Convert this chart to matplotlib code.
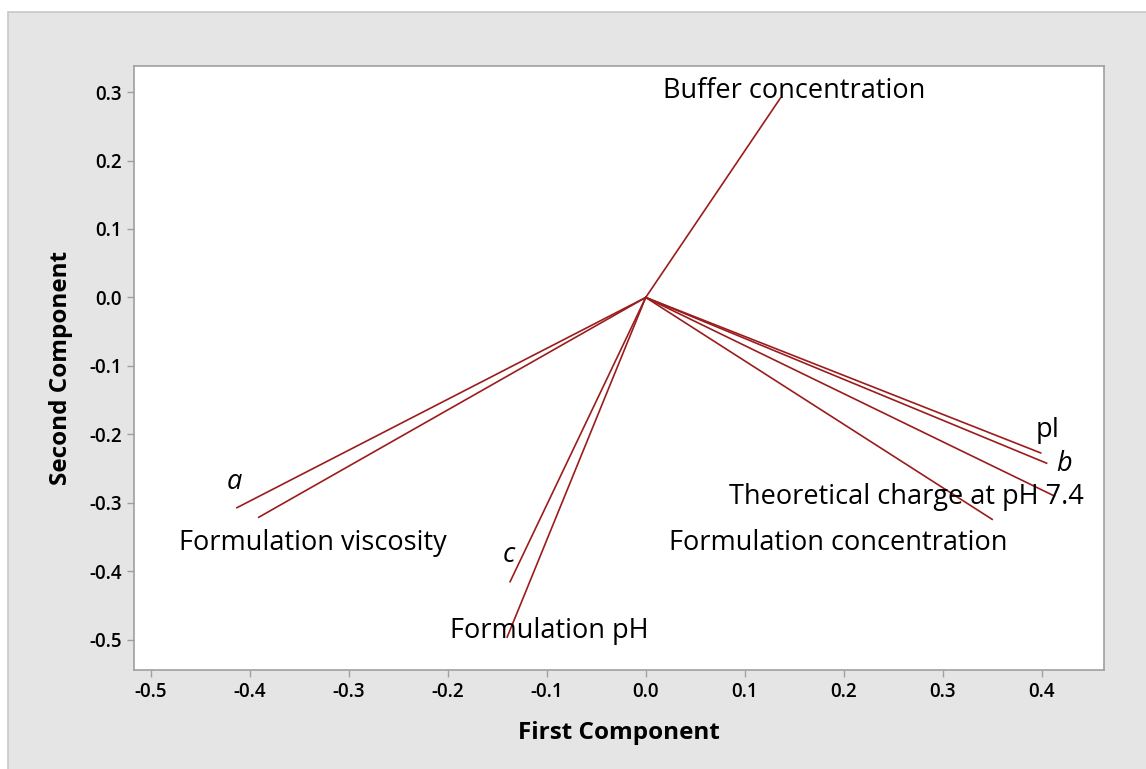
import matplotlib.pyplot as plt
from matplotlib.patches import Rectangle

# loadings (first, second component)
names = ["Buffer concentration", "pI", "b", "Theoretical charge at pH 7.4",
         "Formulation concentration", "a", "Formulation viscosity", "c",
         "Formulation pH"]
pc1 = [0.136, 0.399, 0.405, 0.413, 0.350, -0.413, -0.391, -0.137, -0.140]
pc2 = [0.291, -0.227, -0.242, -0.290, -0.324, -0.307, -0.321, -0.415, -0.496]

# label anchor points
lab_x = [0.150, 0.406, 0.423, 0.263, 0.195, -0.416, -0.336, -0.138, -0.097]
lab_y = [0.301, -0.194, -0.243, -0.291, -0.358, -0.269, -0.358, -0.376, -0.487]
italic = ["a", "b", "c"]

xticks = [-0.5, -0.4, -0.3, -0.2, -0.1, 0.0, 0.1, 0.2, 0.3, 0.4]
yticks = [-0.5, -0.4, -0.3, -0.2, -0.1, 0.0, 0.1, 0.2, 0.3]

plt.rcParams['font.family'] = ['Open Sans', 'DejaVu Sans']

W, H = 1146, 769
fig = plt.figure(figsize=(W / 100, H / 100), dpi=100, facecolor="white")
bg = Rectangle((8 / W, -0.02), 1.05, 1 - 12 / H + 0.02,
               transform=fig.transFigure, facecolor="#e5e5e5",
               edgecolor="#c8c8c8", linewidth=1.2, zorder=-10)
fig.add_artist(bg)

ax = fig.add_axes([134 / W, 1 - 670 / H, (1104 - 134) / W, (670 - 66) / H])
ax.set_facecolor("white")
ax.set_zorder(1)

for x, y in zip(pc1, pc2):
    ax.plot([0, x], [0, y], color="#9b1c1c", lw=1.2)

for n, x, y in zip(names, lab_x, lab_y):
    ax.text(x, y, n, ha="center", va="center", fontsize=19.5,
            style="italic" if n in italic else "normal", color="black")

ax.set_xlim(-0.517, 0.463)
ax.set_ylim(-0.544, 0.338)
ax.set_xticks(xticks)
ax.set_yticks(yticks)
ax.set_xticklabels([f"{v:.1f}" for v in xticks])
ax.set_yticklabels([f"{v:.1f}" for v in yticks])
ax.tick_params(colors="#a0a0a0", labelcolor="black", length=5, width=1,
               labelsize=13.5)
for lab in ax.get_xticklabels() + ax.get_yticklabels():
    lab.set_fontweight("semibold")
for s in ax.spines.values():
    s.set_color("#a0a0a0")
    s.set_linewidth(1.2)

ax.set_xlabel("First Component", fontsize=17.5, fontweight="bold", labelpad=14)
ax.set_ylabel("Second Component", fontsize=17.5, fontweight="bold", labelpad=12)

fig.savefig("out.png", dpi=100, facecolor="white")
